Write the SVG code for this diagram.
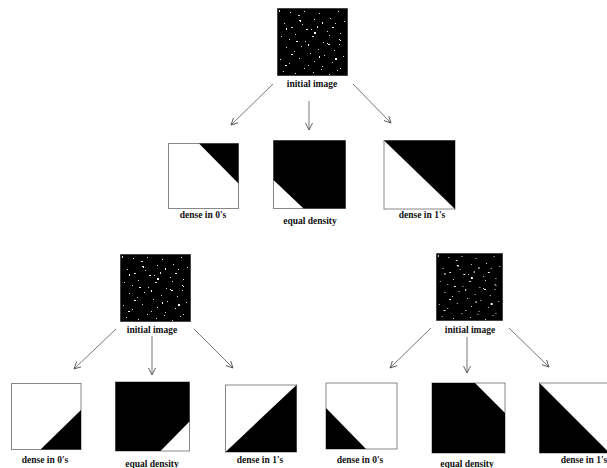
<svg xmlns="http://www.w3.org/2000/svg" xmlns:xlink="http://www.w3.org/1999/xlink" width="607" height="468" viewBox="0 0 607 468">
<style>
.lbl{font-family:"Liberation Serif","Times New Roman",serif;font-weight:bold;font-size:9.5px;fill:#111;text-anchor:middle}
.box{fill:#fff;stroke:#888;stroke-width:1}
.blk{fill:#000}
.con{stroke:#666;stroke-width:0.9;fill:none;marker-end:url(#ah)}
</style>
<defs>
<marker id="ah" viewBox="0 0 8 8" refX="7" refY="4" markerWidth="8" markerHeight="8" markerUnits="userSpaceOnUse" orient="auto">
<path d="M0,0.5 L7,4 L0,7.5" fill="none" stroke="#555" stroke-width="0.9"/>
</marker>
<symbol id="noise" viewBox="0 0 71 68" preserveAspectRatio="none">
<rect x="0" y="0" width="71" height="68" fill="#000" stroke="#888" stroke-width="1"/>
<path fill="#ddd" d="M2 2h1v2h-1z M13 4h1v1h-1z M21 7h2v1h-2z M27 3h1v1h-1z M37 11h1v1h-1z M42 5h1v1h-1z M53 10h1v1h-1z M61 3h1v1h-1z M67 13h1v1h-1z M7 15h1v1h-1z M14 19h2v1h-2z M25 16h1v1h-1z M34 21h1v1h-1z M40 18h1v2h-1z M50 23h1v1h-1z M58 15h1v1h-1z M63 25h1v1h-1z M4 28h1v1h-1z M12 31h1v1h-1z M18 26h1v1h-1z M28 33h1v1h-1z M35 28h2v1h-2z M46 34h1v1h-1z M52 27h1v1h-1z M62 36h1v1h-1z M9 39h1v1h-1z M17 43h1v1h-1z M24 38h1v1h-1z M33 45h1v1h-1z M41 41h1v1h-1z M47 47h1v1h-1z M57 42h1v1h-1z M66 48h1v1h-1z M3 51h1v1h-1z M12 55h1v1h-1z M22 50h1v1h-1z M31 57h1v1h-1z M37 53h1v1h-1z M45 58h1v1h-1z M55 54h1v1h-1z M63 60h1v1h-1z M6 63h1v1h-1z M18 65h1v1h-1z M27 60h1v1h-1z M36 64h1v1h-1z M44 61h1v1h-1z M52 66h1v1h-1z M60 62h1v1h-1z"/>
<path fill="#fff" d="M22 12h2v1h-2z M23 13h1v1h-1z M37 24h2v2h-2z M50 35h1v1h-1z M51 36h2v1h-2z M58 50h2v2h-2z M14 46h2v1h-2z M42 48h1v2h-1z M29 21h2v1h-2z M9 20h1v2h-1z M55 19h2v1h-2z M31 36h1v2h-1z M62 31h1v1h-1z M63 32h1v1h-1z M19 33h2v1h-2z M45 14h1v2h-1z M8 57h2v1h-2z"/>
</symbol>
</defs>
<rect width="607" height="468" fill="#fff"/>

<g id="connectors">
<line class="con" x1="273" y1="84" x2="231" y2="125"/>
<line class="con" x1="309" y1="101" x2="309" y2="130"/>
<line class="con" x1="353" y1="84" x2="391" y2="123"/>
<line class="con" x1="116" y1="329" x2="74" y2="369"/>
<line class="con" x1="152" y1="336" x2="152" y2="375"/>
<line class="con" x1="194" y1="329" x2="233" y2="368"/>
<line class="con" x1="431" y1="328" x2="390" y2="368"/>
<line class="con" x1="467" y1="337" x2="467" y2="373"/>
<line class="con" x1="509" y1="328" x2="549" y2="367"/>
</g>

<g id="top-initial">
<use xlink:href="#noise" href="#noise" x="277" y="8" width="71" height="68"/>
<text class="lbl" x="312" y="87">initial image</text>
</g>
<g id="top-dense0">
<rect class="box" x="168.5" y="143.5" width="70" height="65"/>
<polygon class="blk" points="199,143.5 238.5,143.5 238.5,183.5"/>
<text class="lbl" x="203" y="218">dense in 0's</text>
</g>
<g id="top-equal">
<rect class="box" x="273.5" y="140.5" width="72" height="68"/>
<polygon class="blk" points="273.5,140.5 345.5,140.5 345.5,208.5 303.5,208.5 273.5,180"/>
<text class="lbl" x="310" y="224">equal density</text>
</g>
<g id="top-dense1">
<rect class="box" x="384" y="140.5" width="71" height="68.5"/>
<polygon class="blk" points="384,140.5 455,140.5 455,209"/>
<text class="lbl" x="422" y="218">dense in 1's</text>
</g>

<g id="bl-initial">
<use xlink:href="#noise" href="#noise" x="120" y="254" width="71" height="68"/>
<text class="lbl" x="152" y="333">initial image</text>
</g>
<g id="bl-dense0">
<rect class="box" x="11.5" y="383.5" width="69.5" height="66"/>
<polygon class="blk" points="81,410 81,449.5 40.5,449.5"/>
<text class="lbl" x="45" y="463">dense in 0's</text>
</g>
<g id="bl-equal">
<rect class="box" x="115.5" y="382" width="74" height="69"/>
<polygon class="blk" points="115.5,382 189.5,382 189.5,421.5 160.5,451 115.5,451"/>
<text class="lbl" x="152" y="467">equal density</text>
</g>
<g id="bl-dense1">
<rect class="box" x="225.5" y="385" width="71" height="67"/>
<polygon class="blk" points="225.5,452 296.5,385 296.5,452"/>
<text class="lbl" x="260" y="463">dense in 1's</text>
</g>

<g id="br-initial">
<use xlink:href="#noise" href="#noise" x="436" y="253" width="67" height="68"/>
<text class="lbl" x="470" y="333">initial image</text>
</g>
<g id="br-dense0">
<rect class="box" x="326" y="383" width="71" height="66"/>
<polygon class="blk" points="326,408 326,449 366,449"/>
<text class="lbl" x="360" y="463">dense in 0's</text>
</g>
<g id="br-equal">
<rect class="box" x="432" y="383" width="73" height="70"/>
<polygon class="blk" points="432,383 475,383 505,413 505,453 432,453"/>
<text class="lbl" x="467" y="467">equal density</text>
</g>
<g id="br-dense1">
<rect class="box" x="539.5" y="383" width="72" height="70"/>
<polygon class="blk" points="539.5,383 609.5,453 539.5,453"/>
<text class="lbl" x="584" y="463">dense in 1's</text>
</g>
</svg>
